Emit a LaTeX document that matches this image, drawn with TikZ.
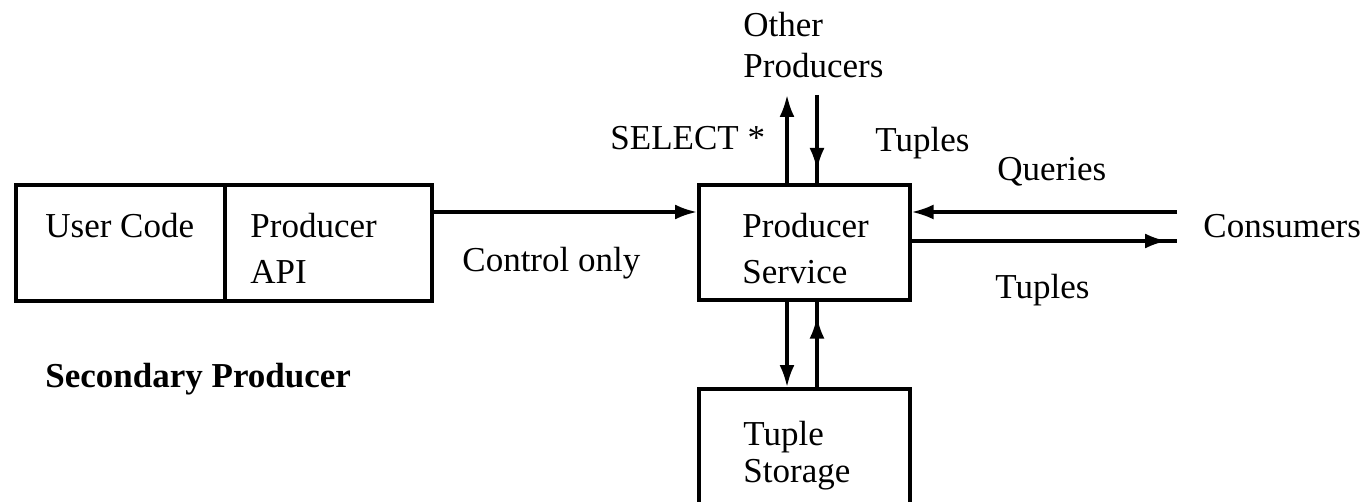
\documentclass[tikz,border=0pt]{standalone}
\usepackage{fontspec}
\setmainfont{Liberation Serif}
\usetikzlibrary{arrows.meta,decorations.markings}

\tikzset{
  box/.style={draw, line width=1.8pt, rectangle, inner sep=0pt, anchor=north west},
  txt/.style={inner sep=0pt, anchor=base west, font=\fontsize{17.5}{21}\selectfont},
  btxt/.style={txt, font=\fontsize{17.5}{21}\selectfont\bfseries},
  link/.style={line width=1.6pt},
  tip/.tip={Latex[length=11pt,width=7.5pt]},
  arr/.style={link, -tip},
  headat/.style={link, postaction={decorate, decoration={markings,
      mark=at position #1 with {\arrow{tip}}}}}
}

\begin{document}
\begin{tikzpicture}[x=0.5pt, y=-0.5pt]
  \useasboundingbox (0,0) rectangle (1364,502);
  \clip (0,0) rectangle (1364,502);

  % Secondary producer: user code and producer API side by side
  \node[box, minimum width=104.5pt, minimum height=58pt] (user) at (14,183) {};
  \node[box, minimum width=103.5pt, minimum height=58pt] (api) at (223,183) {};
  \node[txt] (userT) at (45,238) {User Code};
  \node[txt] (apiT1) at (250,238) {Producer};
  \node[txt] (apiT2) at (250,283) {API};
  \node[btxt] (secT) at (45,387) {Secondary Producer};

  % Producer service
  \node[box, minimum width=105.5pt, minimum height=57.5pt] (svc) at (697,183) {};
  \node[txt] (svcT1) at (742,238) {Producer};
  \node[txt] (svcT2) at (742,283) {Service};

  % Tuple storage (runs past the lower edge)
  \node[box, minimum width=105.5pt, minimum height=80pt] (store) at (697,387) {};
  \node[txt] (stT1) at (743,445) {Tuple};
  \node[txt] (stT2) at (743,482) {Storage};

  % Other producers and consumers
  \node[txt] (opT1) at (743,37) {Other};
  \node[txt] (opT2) at (743,78) {Producers};
  \node[txt] (cons) at (1203,238) {Consumers};

  \coordinate (opUp) at (787,95);
  \coordinate (opDn) at (817,95);
  \coordinate (cq) at (1177,212);
  \coordinate (ct) at (1177,241);

  % Connectors
  \draw[arr] (api.east |- 0,212) -- (svc.west |- 0,212);
  \node[txt] (ctlT) at (462,271) {Control only};

  \draw[arr] (svc.north -| opUp) -- (opUp);
  \draw[headat=-6.5pt] (opDn) -- (svc.north -| opDn);
  \node[txt] (selT) at (610,150) {SELECT *};
  \node[txt] (tupT1) at (875,152) {Tuples};

  \draw[arr] (cq) -- (svc.east |- cq);
  \draw[headat=-5pt] (svc.east |- ct) -- (ct);
  \node[txt] (qT) at (997,181) {Queries};
  \node[txt] (tupT2) at (995,298) {Tuples};

  \draw[arr] (svc.south -| opUp) -- (store.north -| opUp);
  \draw[headat=-7.5pt] (store.north -| opDn) -- (svc.south -| opDn);
\end{tikzpicture}
\end{document}
